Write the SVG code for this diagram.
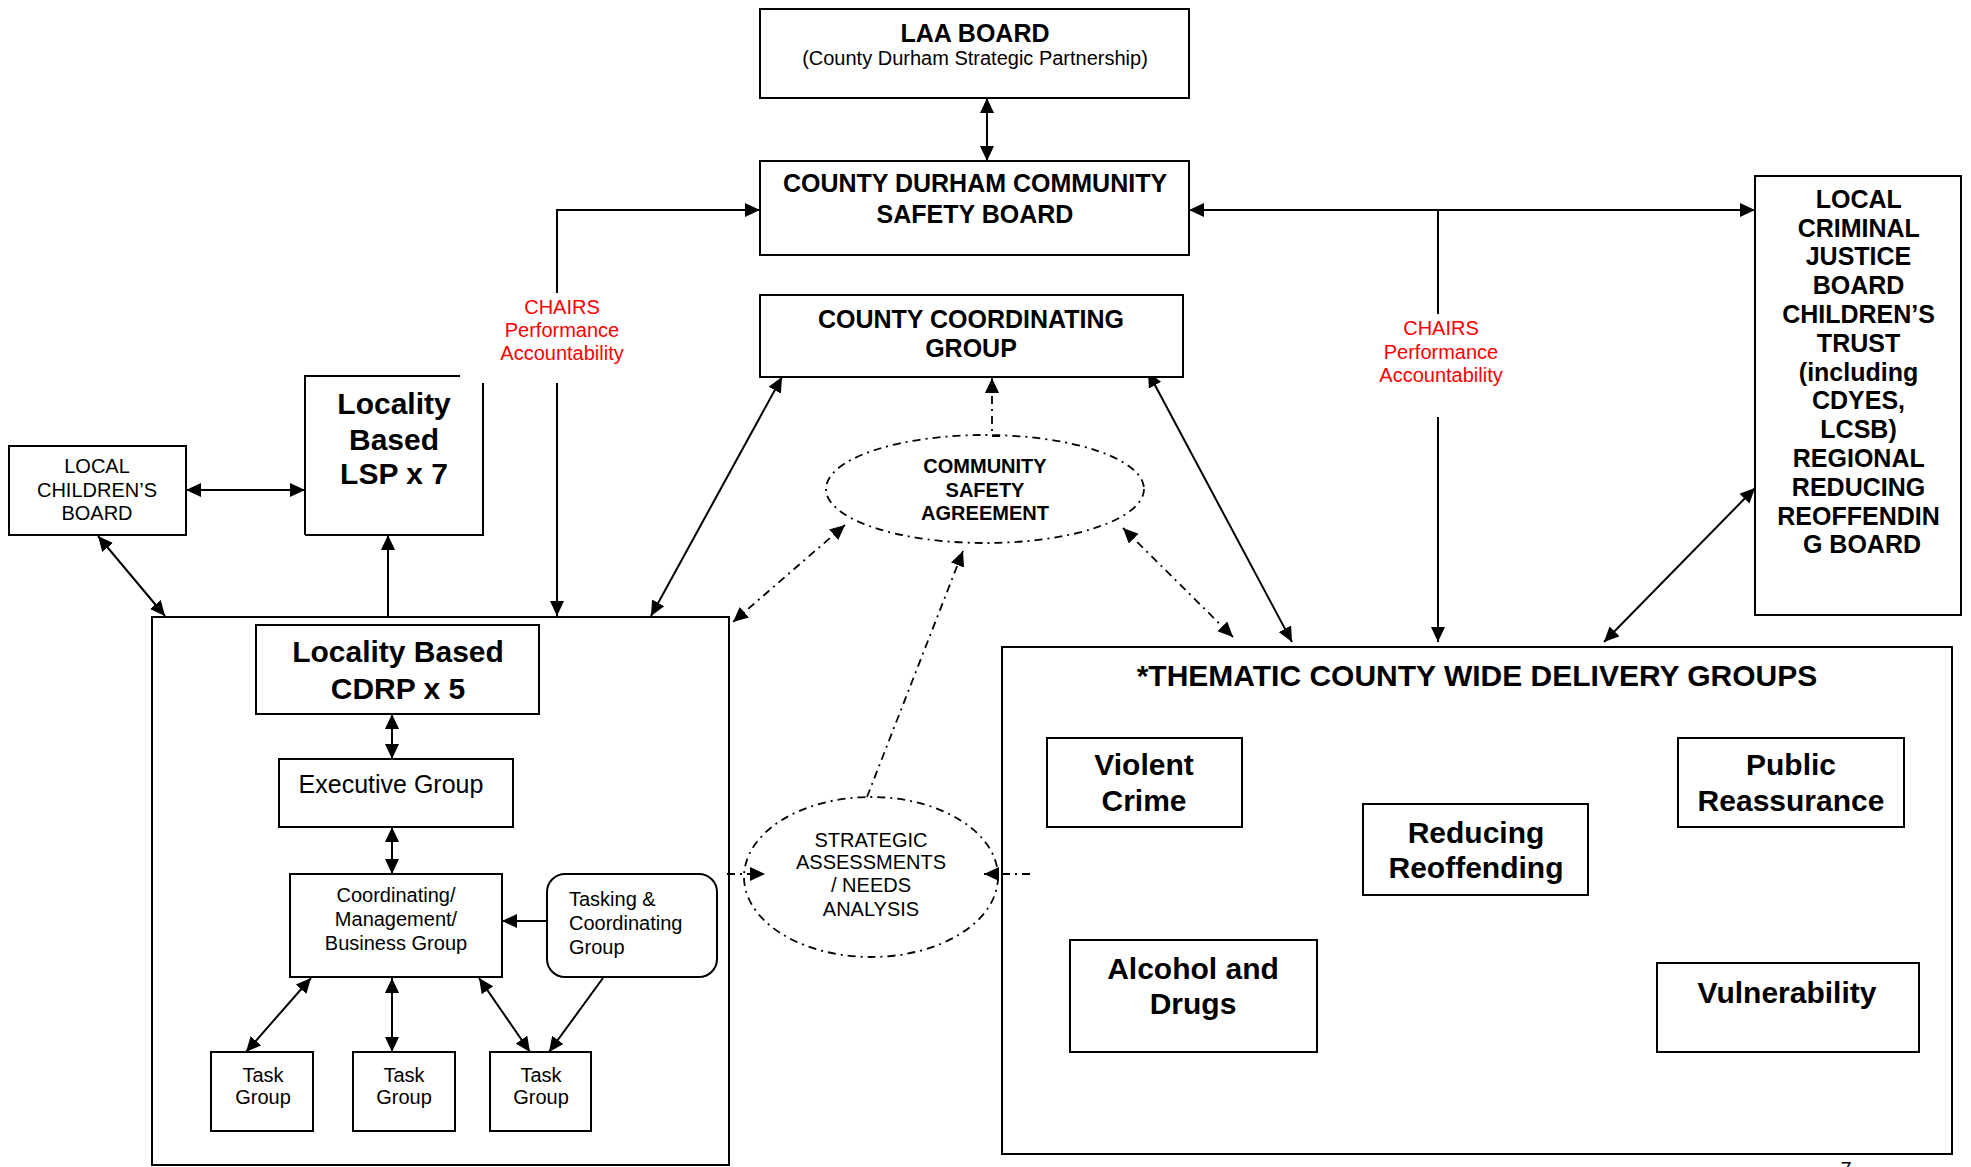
<svg xmlns="http://www.w3.org/2000/svg" width="1971" height="1167" viewBox="0 0 1971 1167">
<style>
.b{fill:#fff;stroke:#000;stroke-width:2}
.t{font-family:"Liberation Sans",Arial,sans-serif;fill:#000;text-anchor:middle}
.bd{font-weight:bold}
.s20{font-size:20px}.s25{font-size:25px}.s30{font-size:30px}
.red{fill:#ff0000}
.c{fill:none;stroke:#000;stroke-width:2}
.dd{fill:none;stroke:#000;stroke-width:1.8;stroke-dasharray:8 5 2 5}
</style>
<defs>
<marker id="ah" markerUnits="userSpaceOnUse" markerWidth="16" markerHeight="14" refX="15" refY="7" orient="auto-start-reverse">
<path d="M0,0 L15,7 L0,14 z" fill="#000"/>
</marker>
</defs>
<rect width="1971" height="1167" fill="#fff"/>

<g id="connectors">
<line class="c" x1="987" y1="98" x2="987" y2="161" marker-start="url(#ah)" marker-end="url(#ah)"/>
<polyline class="c" points="557,293 557,210 760,210" marker-end="url(#ah)"/>
<line class="c" x1="557" y1="383" x2="557" y2="616" marker-end="url(#ah)"/>
<line class="c" x1="1189" y1="210" x2="1755" y2="210" marker-start="url(#ah)" marker-end="url(#ah)"/>
<line class="c" x1="1438" y1="210" x2="1438" y2="314"/>
<line class="c" x1="1438" y1="417" x2="1438" y2="642" marker-end="url(#ah)"/>
<line class="c" x1="186" y1="490" x2="305" y2="490" marker-start="url(#ah)" marker-end="url(#ah)"/>
<line class="c" x1="98" y1="536" x2="165" y2="616" marker-start="url(#ah)" marker-end="url(#ah)"/>
<line class="c" x1="388" y1="617" x2="388" y2="535" marker-end="url(#ah)"/>
<line class="c" x1="782" y1="377" x2="651" y2="616" marker-start="url(#ah)" marker-end="url(#ah)"/>
<line class="c" x1="1148" y1="372" x2="1292" y2="642" marker-start="url(#ah)" marker-end="url(#ah)"/>
<line class="c" x1="1755" y1="488" x2="1604" y2="642" marker-start="url(#ah)" marker-end="url(#ah)"/>
<line class="c" x1="392" y1="714" x2="392" y2="759" marker-start="url(#ah)" marker-end="url(#ah)"/>
<line class="c" x1="392" y1="827" x2="392" y2="874" marker-start="url(#ah)" marker-end="url(#ah)"/>
<line class="c" x1="547" y1="921" x2="502" y2="921" marker-end="url(#ah)"/>
<line class="c" x1="311" y1="978" x2="246" y2="1052" marker-start="url(#ah)" marker-end="url(#ah)"/>
<line class="c" x1="392" y1="978" x2="392" y2="1052" marker-start="url(#ah)" marker-end="url(#ah)"/>
<line class="c" x1="479" y1="978" x2="530" y2="1052" marker-start="url(#ah)" marker-end="url(#ah)"/>
<line class="c" x1="603" y1="978" x2="549" y2="1052" marker-end="url(#ah)"/>
<polyline class="dd" points="1000,436 992,436 992,378" marker-end="url(#ah)"/>
<line class="dd" x1="845" y1="525" x2="733" y2="622" marker-start="url(#ah)" marker-end="url(#ah)"/>
<line class="dd" x1="1123" y1="528" x2="1233" y2="637" marker-start="url(#ah)" marker-end="url(#ah)"/>
<line class="dd" x1="867" y1="797" x2="963" y2="551" marker-end="url(#ah)"/>
<line class="dd" x1="727" y1="874" x2="765" y2="874" marker-end="url(#ah)"/>
<line class="dd" x1="1030" y1="874" x2="984" y2="874" marker-end="url(#ah)"/>
</g>

<g id="laa-board">
<rect class="b" x="760" y="9" width="429" height="89"/>
<text class="t bd s25" x="975" y="42">LAA BOARD</text>
<text class="t s20" x="975" y="65">(County Durham Strategic Partnership)</text>
</g>

<g id="cdsb">
<rect class="b" x="760" y="161" width="429" height="94"/>
<text class="t bd s25" x="975" y="192">COUNTY DURHAM COMMUNITY</text>
<text class="t bd s25" x="975" y="223">SAFETY BOARD</text>
</g>

<g id="ccg">
<rect class="b" x="760" y="295" width="423" height="82"/>
<text class="t bd s25" x="971" y="328">COUNTY COORDINATING</text>
<text class="t bd s25" x="971" y="357">GROUP</text>
</g>

<g id="lcjb">
<rect class="b" x="1755" y="176" width="206" height="439"/>
<text class="t bd s25">
<tspan x="1862" y="208">LOCAL</tspan>
<tspan x="1862" y="237">CRIMINAL</tspan>
<tspan x="1862" y="265">JUSTICE</tspan>
<tspan x="1862" y="294">BOARD</tspan>
<tspan x="1862" y="323">CHILDREN’S</tspan>
<tspan x="1862" y="352">TRUST</tspan>
<tspan x="1862" y="381">(including</tspan>
<tspan x="1862" y="409">CDYES,</tspan>
<tspan x="1862" y="438">LCSB)</tspan>
<tspan x="1862" y="467">REGIONAL</tspan>
<tspan x="1862" y="496">REDUCING</tspan>
<tspan x="1862" y="525">REOFFENDIN</tspan>
<tspan x="1862" y="553">G BOARD</tspan>
</text>
</g>

<g id="chairs-left">
<text class="t s20 red"><tspan x="562" y="314">CHAIRS</tspan><tspan x="562" y="337">Performance</tspan><tspan x="562" y="360">Accountability</tspan></text>
</g>
<g id="chairs-right">
<text class="t s20 red"><tspan x="1441" y="335">CHAIRS</tspan><tspan x="1441" y="359">Performance</tspan><tspan x="1441" y="382">Accountability</tspan></text>
</g>

<g id="local-childrens-board">
<rect class="b" x="9" y="446" width="177" height="89"/>
<text class="t s20"><tspan x="97" y="473">LOCAL</tspan><tspan x="97" y="497">CHILDREN’S</tspan><tspan x="97" y="520">BOARD</tspan></text>
</g>

<g id="lsp">
<path d="M305,535 L305,376 L460,376 M483,383 L483,535 L305,535" fill="#fff" stroke="#000" stroke-width="2"/>
<text class="t bd s30"><tspan x="394" y="414">Locality</tspan><tspan x="394" y="450">Based</tspan><tspan x="394" y="484">LSP x 7</tspan></text>
</g>

<g id="cdrp-outer">
<rect class="c" x="152" y="617" width="577" height="548"/>
</g>

<g id="cdrp">
<rect class="b" x="256" y="625" width="283" height="89"/>
<text class="t bd s30"><tspan x="398" y="662">Locality Based</tspan><tspan x="398" y="699">CDRP x 5</tspan></text>
</g>

<g id="executive-group">
<rect class="b" x="279" y="759" width="234" height="68"/>
<text class="t s25" x="391" y="793">Executive Group</text>
</g>

<g id="coordinating-group">
<rect class="b" x="290" y="874" width="212" height="103"/>
<text class="t s20"><tspan x="396" y="902">Coordinating/</tspan><tspan x="396" y="926">Management/</tspan><tspan x="396" y="950">Business Group</tspan></text>
</g>

<g id="tasking-group">
<rect class="b" x="547" y="874" width="170" height="103" rx="18"/>
<text class="t s20" style="text-anchor:start"><tspan x="569" y="906">Tasking &amp;</tspan><tspan x="569" y="930">Coordinating</tspan><tspan x="569" y="954">Group</tspan></text>
</g>

<g id="task-group-1">
<rect class="b" x="211" y="1052" width="102" height="79"/>
<text class="t s20"><tspan x="263" y="1082">Task</tspan><tspan x="263" y="1104">Group</tspan></text>
</g>
<g id="task-group-2">
<rect class="b" x="353" y="1052" width="102" height="79"/>
<text class="t s20"><tspan x="404" y="1082">Task</tspan><tspan x="404" y="1104">Group</tspan></text>
</g>
<g id="task-group-3">
<rect class="b" x="490" y="1052" width="101" height="79"/>
<text class="t s20"><tspan x="541" y="1082">Task</tspan><tspan x="541" y="1104">Group</tspan></text>
</g>

<g id="community-safety-agreement">
<ellipse class="dd" cx="985" cy="489" rx="159" ry="54"/>
<text class="t bd s20"><tspan x="985" y="473">COMMUNITY</tspan><tspan x="985" y="497">SAFETY</tspan><tspan x="985" y="520">AGREEMENT</tspan></text>
</g>

<g id="strategic-assessments">
<ellipse class="dd" cx="871" cy="877" rx="127" ry="80"/>
<text class="t s20"><tspan x="871" y="847">STRATEGIC</tspan><tspan x="871" y="869">ASSESSMENTS</tspan><tspan x="871" y="892">/ NEEDS</tspan><tspan x="871" y="916">ANALYSIS</tspan></text>
</g>

<g id="thematic-groups">
<rect class="c" x="1002" y="647" width="950" height="507"/>
<text class="t bd s30" x="1477" y="686">*THEMATIC COUNTY WIDE DELIVERY GROUPS</text>
</g>

<g id="violent-crime">
<rect class="b" x="1047" y="738" width="195" height="89"/>
<text class="t bd s30"><tspan x="1144" y="775">Violent</tspan><tspan x="1144" y="811">Crime</tspan></text>
</g>
<g id="reducing-reoffending">
<rect class="b" x="1363" y="804" width="225" height="91"/>
<text class="t bd s30"><tspan x="1476" y="843">Reducing</tspan><tspan x="1476" y="878">Reoffending</tspan></text>
</g>
<g id="public-reassurance">
<rect class="b" x="1678" y="738" width="226" height="89"/>
<text class="t bd s30"><tspan x="1791" y="775">Public</tspan><tspan x="1791" y="811">Reassurance</tspan></text>
</g>
<g id="alcohol-drugs">
<rect class="b" x="1070" y="940" width="247" height="112"/>
<text class="t bd s30"><tspan x="1193" y="979">Alcohol and</tspan><tspan x="1193" y="1014">Drugs</tspan></text>
</g>
<g id="vulnerability">
<rect class="b" x="1657" y="963" width="262" height="89"/>
<text class="t bd s30" x="1787" y="1003">Vulnerability</text>
</g>

<text class="t s20" x="1846" y="1176">7</text>
</svg>
